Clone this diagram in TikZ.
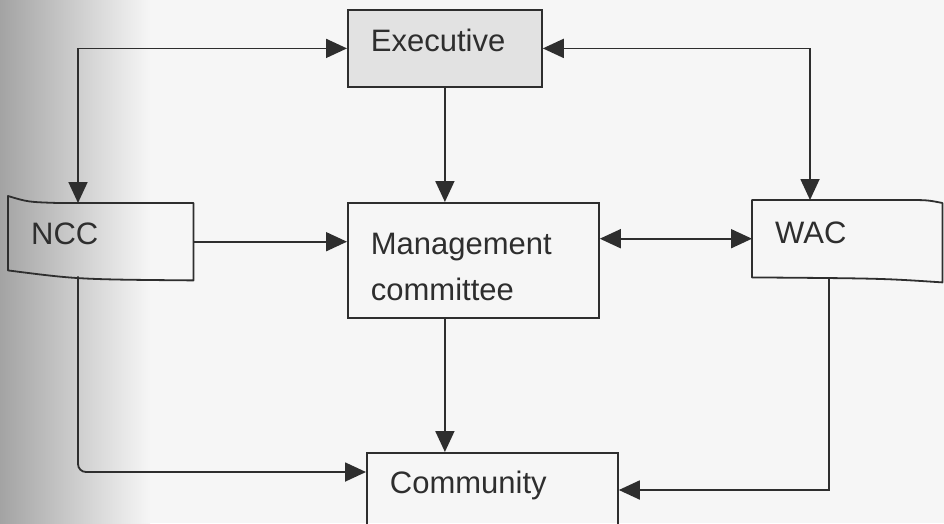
\documentclass[tikz,border=0pt]{standalone}
\usepackage{fontspec}
\setmainfont{Liberation Sans}
\usetikzlibrary{arrows.meta}
\definecolor{ink}{HTML}{2E2E2E}
\definecolor{paper}{HTML}{F6F6F6}
\definecolor{stipple}{HTML}{E2E2E2}
\newcommand{\unitfont}{\fontsize{31}{46}\selectfont}

\begin{document}
\begin{tikzpicture}[x=1pt,y=-1pt,
  unit/.style={anchor=north west,inner xsep=23pt,inner ysep=0pt,align=left,font=\unitfont,text=ink},
  frame/.style={draw=ink,line width=1.8pt},
  link/.style={draw=ink,line width=1.8pt},
  >={Triangle[length=21pt,width=19pt]}]
\useasboundingbox (0,0) rectangle (944,523);
\clip (0,0) rectangle (944,523);
\fill[paper] (0,0) rectangle (944,523);
\shade[left color=black!36,right color=paper] (0,0) rectangle (150,523);
\node[unit,frame,fill=stipple,text width=148pt,text height=42pt,text depth=35pt] (exec) at (347,9) {Executive};
\node[unit,text width=139pt,text height=41pt,text depth=36pt] (ncc) at (8,203) {NCC};
\node[unit,frame,text width=205pt,text height=52pt,text depth=63pt] (mgmt) at (347,202) {Management\\committee};
\node[unit,text width=144pt,text height=43pt,text depth=34pt] (wac) at (752,200) {WAC};
\node[unit,frame,text width=205pt,text height=41pt,text depth=60pt] (comm) at (366,452) {Community};
\draw[frame,line join=round] (ncc.north east) -- ([xshift=50pt]ncc.north west)
  .. controls ([xshift=20pt,yshift=1pt]ncc.north west) .. ([yshift=7pt]ncc.north west)
  -- ([yshift=10pt]ncc.south west)
  .. controls ([xshift=70pt,yshift=1pt]ncc.south west) .. (ncc.south east) -- cycle;
\draw[frame,line join=round] (wac.north west) -- ([xshift=-40pt]wac.north east)
  .. controls ([xshift=-15pt]wac.north east) .. ([yshift=-3pt]wac.north east)
  -- ([yshift=-5pt]wac.south east)
  .. controls ([xshift=-60pt,yshift=-1pt]wac.south east) .. (wac.south west) -- cycle;
\draw[link,<->] (exec.west) -| ([xshift=70pt]ncc.north west);
\draw[link,<->] (exec.east) -| ([xshift=58pt]wac.north west);
\draw[link,->] (exec.south) -- (exec.south |- mgmt.north);
\draw[link,->] (ncc.east) -- (ncc.east -| mgmt.west);
\draw[link,<->] (wac.west -| mgmt.east) -- (wac.west);
\draw[link,->] (mgmt.south -| exec.south) -- (comm.north -| exec.south);
\draw[link,->,rounded corners=8pt] ([xshift=70pt,yshift=4pt]ncc.south west) |- ([yshift=-20pt]comm.north west);
\draw[link,->] ([xshift=77pt]wac.south west) |- ([yshift=-38pt]comm.north east);
\end{tikzpicture}
\end{document}
